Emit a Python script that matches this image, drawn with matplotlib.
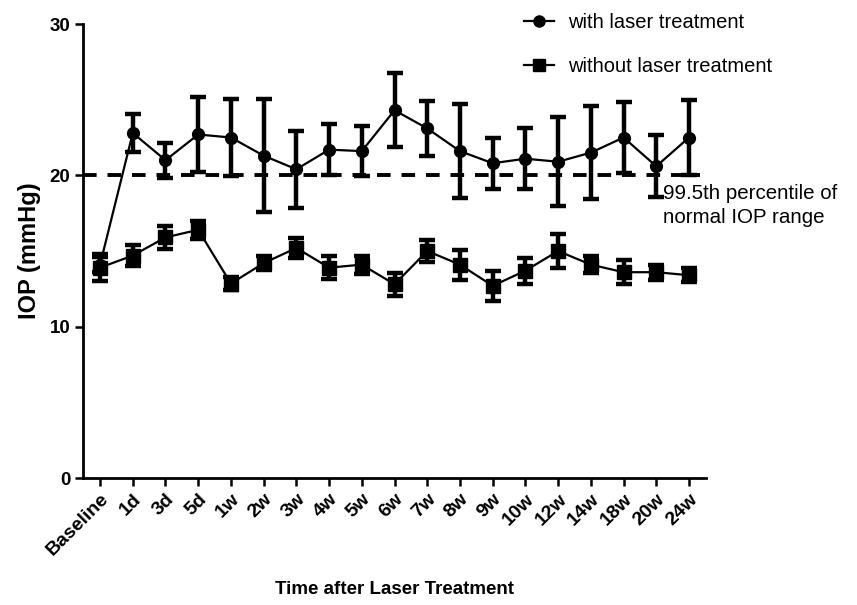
import matplotlib
matplotlib.use("Agg")
import matplotlib.pyplot as plt
from matplotlib.lines import Line2D
import numpy as np

categories = ["Baseline", "1d", "3d", "5d", "1w", "2w", "3w", "4w", "5w", "6w",
              "7w", "8w", "9w", "10w", "12w", "14w", "18w", "20w", "24w"]

with_mean = [14.1, 22.8, 21.0, 22.7, 22.5, 21.3, 20.4, 21.7, 21.6, 24.3,
             23.1, 21.6, 20.8, 21.1, 20.9, 21.5, 22.5, 20.6, 22.5]
with_err = [0.5, 1.25, 1.15, 2.5, 2.55, 3.75, 2.55, 1.7, 1.65, 2.45,
            1.8, 3.1, 1.7, 2.0, 2.95, 3.05, 2.35, 2.05, 2.45]

without_mean = [13.9, 14.7, 15.9, 16.4, 12.85, 14.2, 15.2, 13.9, 14.1, 12.8,
                15.0, 14.1, 12.7, 13.7, 15.0, 14.1, 13.6, 13.6, 13.4]
without_err = [0.9, 0.7, 0.75, 0.6, 0.45, 0.45, 0.65, 0.75, 0.6, 0.75,
               0.7, 1.0, 1.0, 0.85, 1.1, 0.55, 0.8, 0.5, 0.45]

threshold = 20.0
y_ticks = [0, 10, 20, 30]

plt.rcParams["font.family"] = ["Liberation Sans", "DejaVu Sans"]

fig = plt.figure(figsize=(8.57, 6.05), dpi=100)
ax = fig.add_axes([0.0969, 0.2099, 0.7269, 0.7504])

x = np.arange(len(categories))

ax.plot([-0.52, x[-1] + 0.35], [threshold, threshold], color="black",
        lw=2.8, ls=(0, (3.5, 2.8)), zorder=1, clip_on=False)

ax.errorbar(x, without_mean, yerr=without_err, color="black", lw=1.6,
            marker="s", markersize=10, elinewidth=3.2, capsize=5.5,
            capthick=3.2, zorder=3)
ax.errorbar(x, with_mean, yerr=with_err, color="black", lw=1.6,
            marker="o", markersize=8.5, elinewidth=3.2, capsize=5.5,
            capthick=3.2, zorder=4)

ax.set_xlim(-0.52, 18.52)
ax.set_ylim(0, 30)
ax.set_yticks(y_ticks)
ax.set_xticks(x)
ax.set_xticklabels(categories, rotation=45, ha="right", rotation_mode="anchor",
                   fontweight="bold", fontsize=14)
for lab in ax.get_yticklabels():
    lab.set_fontweight("bold")
    lab.set_fontsize(13.5)

for s in ["top", "right"]:
    ax.spines[s].set_visible(False)
for s in ["left", "bottom"]:
    ax.spines[s].set_linewidth(2.0)
ax.tick_params(axis="both", direction="out", length=6, width=1.8, pad=3)

ax.set_ylabel("IOP (mmHg)", fontsize=17, fontweight="bold", labelpad=6)
ax.set_xlabel("Time after Laser Treatment", fontsize=13.5, fontweight="bold",
              labelpad=16)

ax.text(17.2, 19.45, "99.5th percentile of\nnormal IOP range",
        fontsize=14.8, ha="left", va="top", linespacing=1.35, zorder=5,
        clip_on=False)

handles = [Line2D([], [], color="black", lw=1.6, marker="o", markersize=8),
           Line2D([], [], color="black", lw=1.6, marker="s", markersize=9)]
fig.legend(handles, ["with laser treatment", "without laser treatment"],
           loc="upper left", bbox_to_anchor=(0.59, 1.009), frameon=False,
           handlelength=1.5, handletextpad=0.7, labelspacing=1.25,
           prop={"size": 14.5})

fig.savefig("out.png", dpi=100)
